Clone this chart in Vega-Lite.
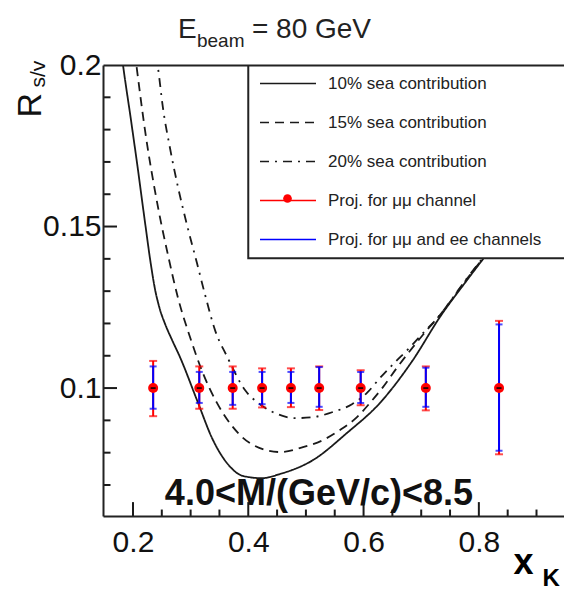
{
  "$schema": "https://vega.github.io/schema/vega-lite/v6.json",
  "autosize": {"type": "none"},
  "padding": {"left": 103, "top": 65, "right": 0, "bottom": 82},
  "width": 461,
  "height": 451,
  "background": "white",
  "config": {
    "view": {"stroke": null},
    "font": "Liberation Sans",
    "axis": {"grid": false}
  },
  "datasets": {
    "curves": [
      {"x": 0.178, "y": 0.2065, "series": "10% sea contribution"},
      {"x": 0.1827, "y": 0.2000, "series": "10% sea contribution"},
      {"x": 0.1965, "y": 0.1830, "series": "10% sea contribution"},
      {"x": 0.2087, "y": 0.1675, "series": "10% sea contribution"},
      {"x": 0.2208, "y": 0.1514, "series": "10% sea contribution"},
      {"x": 0.2312, "y": 0.1381, "series": "10% sea contribution"},
      {"x": 0.2380, "y": 0.1308, "series": "10% sea contribution"},
      {"x": 0.2460, "y": 0.1248, "series": "10% sea contribution"},
      {"x": 0.2560, "y": 0.1197, "series": "10% sea contribution"},
      {"x": 0.2680, "y": 0.1148, "series": "10% sea contribution"},
      {"x": 0.2815, "y": 0.1096, "series": "10% sea contribution"},
      {"x": 0.3110, "y": 0.0963, "series": "10% sea contribution"},
      {"x": 0.3388, "y": 0.0839, "series": "10% sea contribution"},
      {"x": 0.3630, "y": 0.0768, "series": "10% sea contribution"},
      {"x": 0.3908, "y": 0.0728, "series": "10% sea contribution"},
      {"x": 0.4237, "y": 0.0721, "series": "10% sea contribution"},
      {"x": 0.4550, "y": 0.0734, "series": "10% sea contribution"},
      {"x": 0.5122, "y": 0.0777, "series": "10% sea contribution"},
      {"x": 0.5712, "y": 0.0861, "series": "10% sea contribution"},
      {"x": 0.6284, "y": 0.0954, "series": "10% sea contribution"},
      {"x": 0.6857, "y": 0.1087, "series": "10% sea contribution"},
      {"x": 0.7325, "y": 0.1220, "series": "10% sea contribution"},
      {"x": 0.7794, "y": 0.1334, "series": "10% sea contribution"},
      {"x": 0.8071, "y": 0.1399, "series": "10% sea contribution"},
      {"x": 0.8540, "y": 0.1505, "series": "10% sea contribution"},

      {"x": 0.2030, "y": 0.2039, "series": "15% sea contribution"},
      {"x": 0.2052, "y": 0.2009, "series": "15% sea contribution"},
      {"x": 0.2208, "y": 0.1799, "series": "15% sea contribution"},
      {"x": 0.2434, "y": 0.1560, "series": "15% sea contribution"},
      {"x": 0.2607, "y": 0.1412, "series": "15% sea contribution"},
      {"x": 0.2781, "y": 0.1279, "series": "15% sea contribution"},
      {"x": 0.2989, "y": 0.1158, "series": "15% sea contribution"},
      {"x": 0.3214, "y": 0.1046, "series": "15% sea contribution"},
      {"x": 0.3457, "y": 0.0954, "series": "15% sea contribution"},
      {"x": 0.3735, "y": 0.0879, "series": "15% sea contribution"},
      {"x": 0.4082, "y": 0.0824, "series": "15% sea contribution"},
      {"x": 0.4550, "y": 0.0802, "series": "15% sea contribution"},
      {"x": 0.4949, "y": 0.0817, "series": "15% sea contribution"},
      {"x": 0.5296, "y": 0.0839, "series": "15% sea contribution"},
      {"x": 0.5591, "y": 0.0870, "series": "15% sea contribution"},
      {"x": 0.5886, "y": 0.0910, "series": "15% sea contribution"},
      {"x": 0.6111, "y": 0.0954, "series": "15% sea contribution"},
      {"x": 0.6337, "y": 0.1003, "series": "15% sea contribution"},
      {"x": 0.6580, "y": 0.1063, "series": "15% sea contribution"},
      {"x": 0.7031, "y": 0.1165, "series": "15% sea contribution"},
      {"x": 0.7325, "y": 0.1226, "series": "15% sea contribution"},
      {"x": 0.7794, "y": 0.1338, "series": "15% sea contribution"},
      {"x": 0.8071, "y": 0.1402, "series": "15% sea contribution"},
      {"x": 0.8540, "y": 0.1508, "series": "15% sea contribution"},

      {"x": 0.2400, "y": 0.2030, "series": "20% sea contribution"},
      {"x": 0.2434, "y": 0.1991, "series": "20% sea contribution"},
      {"x": 0.2520, "y": 0.1867, "series": "20% sea contribution"},
      {"x": 0.2642, "y": 0.1743, "series": "20% sea contribution"},
      {"x": 0.2781, "y": 0.1622, "series": "20% sea contribution"},
      {"x": 0.2937, "y": 0.1505, "series": "20% sea contribution"},
      {"x": 0.3110, "y": 0.1387, "series": "20% sea contribution"},
      {"x": 0.3249, "y": 0.1290, "series": "20% sea contribution"},
      {"x": 0.3422, "y": 0.1180, "series": "20% sea contribution"},
      {"x": 0.3631, "y": 0.1098, "series": "20% sea contribution"},
      {"x": 0.3943, "y": 0.0994, "series": "20% sea contribution"},
      {"x": 0.4203, "y": 0.0950, "series": "20% sea contribution"},
      {"x": 0.4498, "y": 0.0920, "series": "20% sea contribution"},
      {"x": 0.4810, "y": 0.0907, "series": "20% sea contribution"},
      {"x": 0.5122, "y": 0.0910, "series": "20% sea contribution"},
      {"x": 0.5469, "y": 0.0926, "series": "20% sea contribution"},
      {"x": 0.5799, "y": 0.0950, "series": "20% sea contribution"},
      {"x": 0.6059, "y": 0.0985, "series": "20% sea contribution"},
      {"x": 0.6284, "y": 0.1031, "series": "20% sea contribution"},
      {"x": 0.6545, "y": 0.1080, "series": "20% sea contribution"},
      {"x": 0.6770, "y": 0.1120, "series": "20% sea contribution"},
      {"x": 0.7031, "y": 0.1170, "series": "20% sea contribution"},
      {"x": 0.7273, "y": 0.1215, "series": "20% sea contribution"},
      {"x": 0.7794, "y": 0.1340, "series": "20% sea contribution"},
      {"x": 0.8071, "y": 0.1403, "series": "20% sea contribution"},
      {"x": 0.8540, "y": 0.1508, "series": "20% sea contribution"}
    ],
    "proj": [
      {"x": 0.235, "y": 0.1, "lo_mm": 0.0913, "hi_mm": 0.1084, "lo_all": 0.0936, "hi_all": 0.1067},
      {"x": 0.315, "y": 0.1, "lo_mm": 0.0936, "hi_mm": 0.1067, "lo_all": 0.0954, "hi_all": 0.1050},
      {"x": 0.373, "y": 0.1, "lo_mm": 0.0936, "hi_mm": 0.1067, "lo_all": 0.0948, "hi_all": 0.1050},
      {"x": 0.424, "y": 0.1, "lo_mm": 0.0940, "hi_mm": 0.1061, "lo_all": 0.0950, "hi_all": 0.1050},
      {"x": 0.474, "y": 0.1, "lo_mm": 0.0941, "hi_mm": 0.1061, "lo_all": 0.0954, "hi_all": 0.1050},
      {"x": 0.523, "y": 0.1, "lo_mm": 0.0932, "hi_mm": 0.1067, "lo_all": 0.0942, "hi_all": 0.1065},
      {"x": 0.595, "y": 0.1, "lo_mm": 0.0947, "hi_mm": 0.1055, "lo_all": 0.0954, "hi_all": 0.1050},
      {"x": 0.708, "y": 0.1, "lo_mm": 0.0931, "hi_mm": 0.1067, "lo_all": 0.0942, "hi_all": 0.1063},
      {"x": 0.835, "y": 0.1, "lo_mm": 0.0795, "hi_mm": 0.1208, "lo_all": 0.0806, "hi_all": 0.1197}
    ],
    "xmajor": [{"v": 0.2}, {"v": 0.4}, {"v": 0.6}, {"v": 0.8}],
    "xminor": [{"v": 0.25}, {"v": 0.3}, {"v": 0.35}, {"v": 0.45}, {"v": 0.5}, {"v": 0.55}, {"v": 0.65}, {"v": 0.7}, {"v": 0.75}, {"v": 0.85}, {"v": 0.9}],
    "ymajor": [{"v": 0.1}, {"v": 0.15}],
    "yminor": [{"v": 0.07}, {"v": 0.08}, {"v": 0.09}, {"v": 0.11}, {"v": 0.12}, {"v": 0.13}, {"v": 0.14}, {"v": 0.16}, {"v": 0.17}, {"v": 0.18}, {"v": 0.19}]
  },
  "resolve": {"axis": {"x": "independent", "y": "independent"}},
  "layer": [
    {
      "data": {"name": "curves"},
      "mark": {"type": "line", "clip": true, "strokeWidth": 1.8, "interpolate": "monotone"},
      "encoding": {
        "x": {
          "field": "x", "type": "quantitative",
          "scale": {"domain": [0.148, 0.9477], "nice": false, "zero": false},
          "axis": {
            "orient": "bottom", "values": [0.2, 0.4, 0.6, 0.8], "format": "~g",
            "ticks": false, "domain": true, "domainWidth": 2, "domainColor": "#222",
            "labelFont": "Liberation Sans", "labelFontSize": 30, "labelColor": "#111",
            "labelPadding": 11, "labelFlush": false, "labelOverlap": false,
            "zindex": 2,
            "title": "x", "titleFont": "Liberation Sans", "titleFontSize": 36, "titleFontWeight": "bold",
            "titleColor": "#000", "titleX": 410, "titleY": 57, "titleAlign": "left", "titleBaseline": "alphabetic", "titleAngle": 0
          }
        },
        "y": {
          "field": "y", "type": "quantitative",
          "scale": {"domain": [0.0604, 0.2], "nice": false, "zero": false},
          "axis": {
            "orient": "left", "values": [0.1, 0.15, 0.2], "format": "~g",
            "ticks": false, "domain": true, "domainWidth": 2, "domainColor": "#222",
            "labelFont": "Liberation Sans", "labelFontSize": 30, "labelColor": "#111",
            "labelPadding": 2, "labelFlush": false, "labelOverlap": false, "labelBaseline": "middle",
            "zindex": 2,
            "title": "R", "titleFont": "Liberation Sans", "titleFontSize": 34, "titleFontWeight": "normal",
            "titleColor": "#111", "titleX": -63, "titleY": 52, "titleAngle": 270, "titleAlign": "left", "titleBaseline": "alphabetic"
          }
        },
        "color": {
          "field": "series", "type": "nominal",
          "scale": {
            "domain": ["10% sea contribution", "15% sea contribution", "20% sea contribution", "Proj. for μμ channel", "Proj. for μμ and ee channels"],
            "range": ["#1a1a1a", "#1a1a1a", "#1a1a1a", "#ff0000", "#0000ff"]
          },
          "legend": {
            "orient": "none", "legendX": 145, "legendY": -2,
            "title": null, "padding": 12,
            "symbolType": "M-4,0H4", "symbolSize": 196, "symbolStrokeWidth": 1.5,
            "symbolOffset": 19.5, "labelOffset": 31.5,
            "labelFont": "Liberation Sans", "labelFontSize": 17, "labelColor": "#222", "labelLimit": 400,
            "rowPadding": 21
          }
        },
        "strokeDash": {
          "field": "series", "type": "nominal",
          "scale": {
            "domain": ["10% sea contribution", "15% sea contribution", "20% sea contribution", "Proj. for μμ channel", "Proj. for μμ and ee channels"],
            "range": [[1, 0], [9, 6], [9, 6, 2, 6], [1, 0], [1, 0]]
          },
          "legend": {
            "orient": "none", "legendX": 145, "legendY": -2,
            "title": null, "padding": 12,
            "symbolType": "M-4,0H4", "symbolSize": 196, "symbolStrokeWidth": 1.5,
            "symbolOffset": 19.5, "labelOffset": 31.5,
            "labelFont": "Liberation Sans", "labelFontSize": 17, "labelColor": "#222", "labelLimit": 400,
            "rowPadding": 21
          }
        }
      }
    },
    {
      "data": {"values": [{"box": "legend"}]},
      "mark": {"type": "rect", "clip": true, "fill": "white", "stroke": "#222", "strokeWidth": 2},
      "encoding": {
        "x": {"datum": 0.4, "type": "quantitative", "axis": null},
        "x2": {"datum": 1.0},
        "y": {"datum": 0.1402, "type": "quantitative", "axis": null},
        "y2": {"datum": 0.21}
      }
    },
    {
      "data": {"name": "xmajor"},
      "mark": {"type": "rule", "color": "#1a1a1a", "strokeWidth": 2},
      "encoding": {
        "x": {"field": "v", "type": "quantitative", "axis": null},
        "y": {"datum": 0.0604, "type": "quantitative", "axis": null},
        "y2": {"datum": 0.0647}
      }
    },
    {
      "data": {"name": "xminor"},
      "mark": {"type": "rule", "color": "#1a1a1a", "strokeWidth": 2},
      "encoding": {
        "x": {"field": "v", "type": "quantitative", "axis": null},
        "y": {"datum": 0.0604, "type": "quantitative", "axis": null},
        "y2": {"datum": 0.0624}
      }
    },
    {
      "data": {"name": "ymajor"},
      "mark": {"type": "rule", "color": "#1a1a1a", "strokeWidth": 2},
      "encoding": {
        "x": {"datum": 0.148, "type": "quantitative", "axis": null},
        "x2": {"datum": 0.1723},
        "y": {"field": "v", "type": "quantitative", "axis": null}
      }
    },
    {
      "data": {"name": "yminor"},
      "mark": {"type": "rule", "color": "#1a1a1a", "strokeWidth": 2},
      "encoding": {
        "x": {"datum": 0.148, "type": "quantitative", "axis": null},
        "x2": {"datum": 0.1610},
        "y": {"field": "v", "type": "quantitative", "axis": null}
      }
    },
    {
      "data": {"name": "proj"},
      "mark": {"type": "errorbar", "color": "#ff0000", "thickness": 2, "size": 8, "ticks": true},
      "encoding": {
        "x": {"field": "x", "type": "quantitative", "axis": null},
        "y": {"field": "lo_mm", "type": "quantitative", "axis": null},
        "y2": {"field": "hi_mm"}
      }
    },
    {
      "data": {"name": "proj"},
      "mark": {"type": "errorbar", "color": "#0000ff", "thickness": 2, "size": 7, "ticks": true},
      "encoding": {
        "x": {"field": "x", "type": "quantitative", "axis": null},
        "y": {"field": "lo_all", "type": "quantitative", "axis": null},
        "y2": {"field": "hi_all"}
      }
    },
    {
      "data": {"name": "proj"},
      "mark": {"type": "point", "filled": true, "color": "#ff0000", "opacity": 1, "size": 100},
      "encoding": {
        "x": {
          "field": "x", "type": "quantitative",
          "axis": {
            "orient": "bottom", "ticks": false, "labels": false, "domain": false, "zindex": 2,
            "title": "K", "titleFont": "Liberation Sans", "titleFontSize": 24, "titleFontWeight": "bold",
            "titleColor": "#000", "titleX": 439, "titleY": 69, "titleAlign": "left", "titleBaseline": "alphabetic", "titleAngle": 0
          }
        },
        "y": {
          "field": "y", "type": "quantitative",
          "axis": {
            "orient": "left", "ticks": false, "labels": false, "domain": false, "zindex": 2,
            "title": "s/v", "titleFont": "Liberation Sans", "titleFontSize": 21, "titleFontWeight": "normal",
            "titleColor": "#111", "titleX": -59, "titleY": 22, "titleAngle": 270, "titleAlign": "left", "titleBaseline": "alphabetic"
          }
        },
        "shape": {
          "datum": "Proj. for μμ channel",
          "scale": {"range": ["circle"]},
          "legend": {
            "orient": "none", "legendX": 180, "legendY": 129,
            "title": null, "padding": 0,
            "symbolType": "circle", "symbolSize": 75, "symbolFillColor": "#ff0000", "symbolStrokeWidth": 0,
            "symbolOffset": 0, "labelExpr": "''", "labelFontSize": 1, "labelOffset": 0
          }
        }
      }
    },
    {
      "data": {"name": "proj"},
      "mark": {"type": "point", "shape": "stroke", "filled": false, "color": "#000", "strokeWidth": 1.5, "size": 25, "opacity": 1},
      "encoding": {
        "x": {
          "field": "x", "type": "quantitative",
          "axis": {"orient": "top", "ticks": false, "labels": false, "domain": true, "domainWidth": 2, "domainColor": "#222", "title": null, "zindex": 2}
        },
        "y": {"field": "y", "type": "quantitative", "axis": null}
      }
    },
    {
      "data": {"values": [{"t": "E"}]},
      "mark": {"type": "text", "align": "left", "baseline": "alphabetic", "font": "Liberation Sans", "fontSize": 28, "color": "#222"},
      "encoding": {
        "text": {"field": "t"},
        "x": {"datum": 0.2781, "type": "quantitative", "axis": null},
        "y": {"datum": 0.2084, "type": "quantitative", "axis": null}
      }
    },
    {
      "data": {"values": [{"t": "beam"}]},
      "mark": {"type": "text", "align": "left", "baseline": "alphabetic", "font": "Liberation Sans", "fontSize": 19, "color": "#222"},
      "encoding": {
        "text": {"field": "t"},
        "x": {"datum": 0.311, "type": "quantitative", "axis": null},
        "y": {"datum": 0.2056, "type": "quantitative", "axis": null}
      }
    },
    {
      "data": {"values": [{"t": "= 80 GeV"}]},
      "mark": {"type": "text", "align": "left", "baseline": "alphabetic", "font": "Liberation Sans", "fontSize": 28, "color": "#222"},
      "encoding": {
        "text": {"field": "t"},
        "x": {"datum": 0.4064, "type": "quantitative", "axis": null},
        "y": {"datum": 0.2084, "type": "quantitative", "axis": null}
      }
    },
    {
      "data": {"values": [{"t": "4.0<M/(GeV/c)<8.5"}]},
      "mark": {"type": "text", "align": "center", "baseline": "alphabetic", "font": "Liberation Sans", "fontSize": 36, "fontWeight": "bold", "color": "#111"},
      "encoding": {
        "text": {"field": "t"},
        "x": {"datum": 0.5226, "type": "quantitative", "axis": null},
        "y": {"datum": 0.0638, "type": "quantitative", "axis": null}
      }
    }
  ]
}
